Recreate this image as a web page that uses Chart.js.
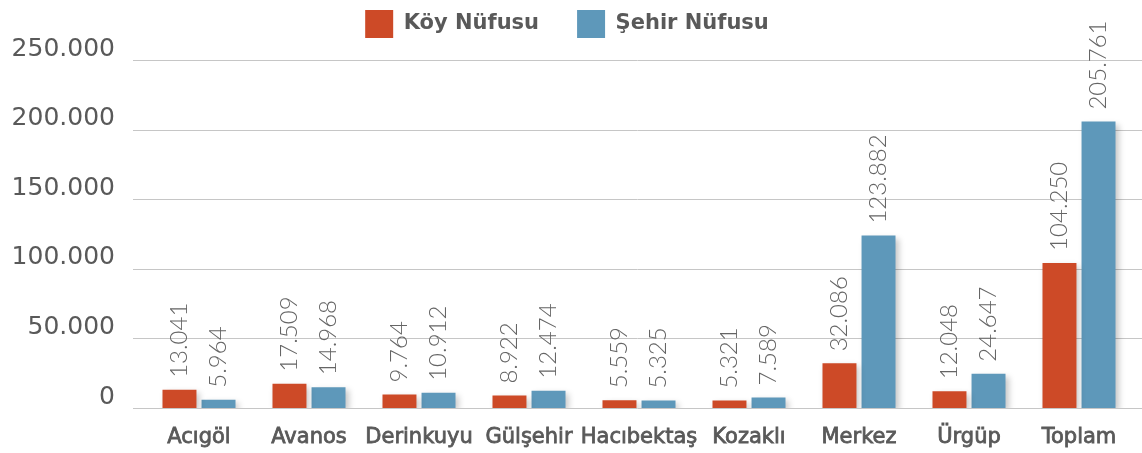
<!DOCTYPE html>
<html>
<head>
<meta charset="utf-8">
<script src="https://cdn.jsdelivr.net/npm/chart.js@4.4.1/dist/chart.umd.min.js"></script>
<style>
    html, body { margin: 0; padding: 0; background: #fff; }
    #wrap { width: 1142px; height: 453px; }
</style>
</head>
<body>
<div id="wrap"><canvas id="chart"></canvas></div>
<script>
const districts = ['Acıgöl', 'Avanos', 'Derinkuyu', 'Gülşehir', 'Hacıbektaş', 'Kozaklı', 'Merkez', 'Ürgüp', 'Toplam'];
const villagePopulation = [13041, 17509, 9764, 8922, 5559, 5321, 32086, 12048, 104250];
const cityPopulation = [5964, 14968, 10912, 12474, 5325, 7589, 123882, 24647, 205761];
const yTicks = [0, 50000, 100000, 150000, 200000, 250000];

const textColor = '#595959';
const mainFont = '"DejaVu Sans", sans-serif';
const labelFont = 'Lato, "Open Sans", sans-serif';

function formatNumber(value) {
    return value.toString().replace(/\B(?=(\d{3})+(?!\d))/g, '.');
}

// legend sits in a fixed band above the plot
const legendHeightPlugin = {
    id: 'legendHeightPlugin',
    beforeInit(chart) {
        const legend = chart.legend;
        const originalFit = legend.fit;
        legend.fit = function () {
            originalFit.call(this);
            this.height = 88;
        };
    }
};

// grid lines drawn a bit wider than the plot, like the original
const gridPlugin = {
    id: 'gridPlugin',
    beforeDatasetsDraw(chart) {
        const ctx = chart.ctx;
        const yScale = chart.scales.y;
        ctx.save();
        ctx.strokeStyle = '#c6c6c6';
        ctx.lineWidth = 1;
        yTicks.forEach((tick) => {
            const y = Math.round(yScale.getPixelForValue(tick)) + 0.5;
            ctx.beginPath();
            ctx.moveTo(133, y);
            ctx.lineTo(1142, y);
            ctx.stroke();
        });
        ctx.restore();
    }
};

const shadowPlugin = {
    id: 'shadowPlugin',
    beforeDatasetDraw(chart) {
        const ctx = chart.ctx;
        ctx.save();
        ctx.shadowColor = 'rgba(0, 0, 0, 0.22)';
        ctx.shadowBlur = 6;
        ctx.shadowOffsetX = 3;
        ctx.shadowOffsetY = 3;
    },
    afterDatasetDraw(chart) {
        chart.ctx.restore();
    }
};

const valueLabelPlugin = {
    id: 'valueLabelPlugin',
    afterDatasetsDraw(chart) {
        const ctx = chart.ctx;
        ctx.save();
        ctx.fillStyle = '#656565';
        ctx.font = '300 24px ' + labelFont;
        ctx.textAlign = 'left';
        ctx.textBaseline = 'middle';
        chart.data.datasets.forEach((dataset, datasetIndex) => {
            const meta = chart.getDatasetMeta(datasetIndex);
            meta.data.forEach((bar, index) => {
                ctx.save();
                ctx.translate(bar.x, bar.y - 12);
                ctx.rotate(-Math.PI / 2);
                ctx.fillText(formatNumber(dataset.data[index]), 0, 0);
                ctx.restore();
            });
        });
        ctx.restore();
    }
};

new Chart(document.getElementById('chart'), {
    type: 'bar',
    data: {
        labels: districts,
        datasets: [
            {
                label: 'Köy Nüfusu',
                data: villagePopulation,
                backgroundColor: '#cd4a27'
            },
            {
                label: 'Şehir Nüfusu',
                data: cityPopulation,
                backgroundColor: '#5e98ba'
            }
        ]
    },
    options: {
        responsive: true,
        maintainAspectRatio: false,
        animation: false,
        categoryPercentage: 0.71,
        barPercentage: 0.87,
        layout: {
            padding: { left: 0, right: 8, top: -28, bottom: 0 }
        },
        plugins: {
            legend: {
                position: 'top',
                labels: {
                    boxWidth: 28,
                    boxHeight: 28,
                    padding: 38,
                    color: textColor,
                    font: { family: mainFont, size: 21, weight: 'bold' }
                }
            },
            tooltip: { enabled: false }
        },
        scales: {
            x: {
                grid: { display: false, drawTicks: false },
                border: { display: false },
                afterFit(scale) {
                    scale.height = 45;
                },
                ticks: {
                    color: textColor,
                    padding: 17,
                    autoSkip: false,
                    maxRotation: 0,
                    minRotation: 0,
                    textStrokeColor: textColor,
                    textStrokeWidth: 0.8,
                    font: { family: mainFont, size: 21 }
                }
            },
            y: {
                min: 0,
                max: 250000,
                afterBuildTicks(scale) {
                    scale.ticks = yTicks.map((value) => ({ value }));
                },
                afterFit(scale) {
                    scale.width = 144;
                },
                grid: { display: false, drawTicks: false },
                border: { display: false },
                ticks: {
                    color: textColor,
                    padding: 29,
                    labelOffset: -11,
                    font: { family: mainFont, size: 25 },
                    callback: (value) => formatNumber(value)
                }
            }
        }
    },
    plugins: [legendHeightPlugin, gridPlugin, shadowPlugin, valueLabelPlugin]
});
</script>
</body>
</html>
